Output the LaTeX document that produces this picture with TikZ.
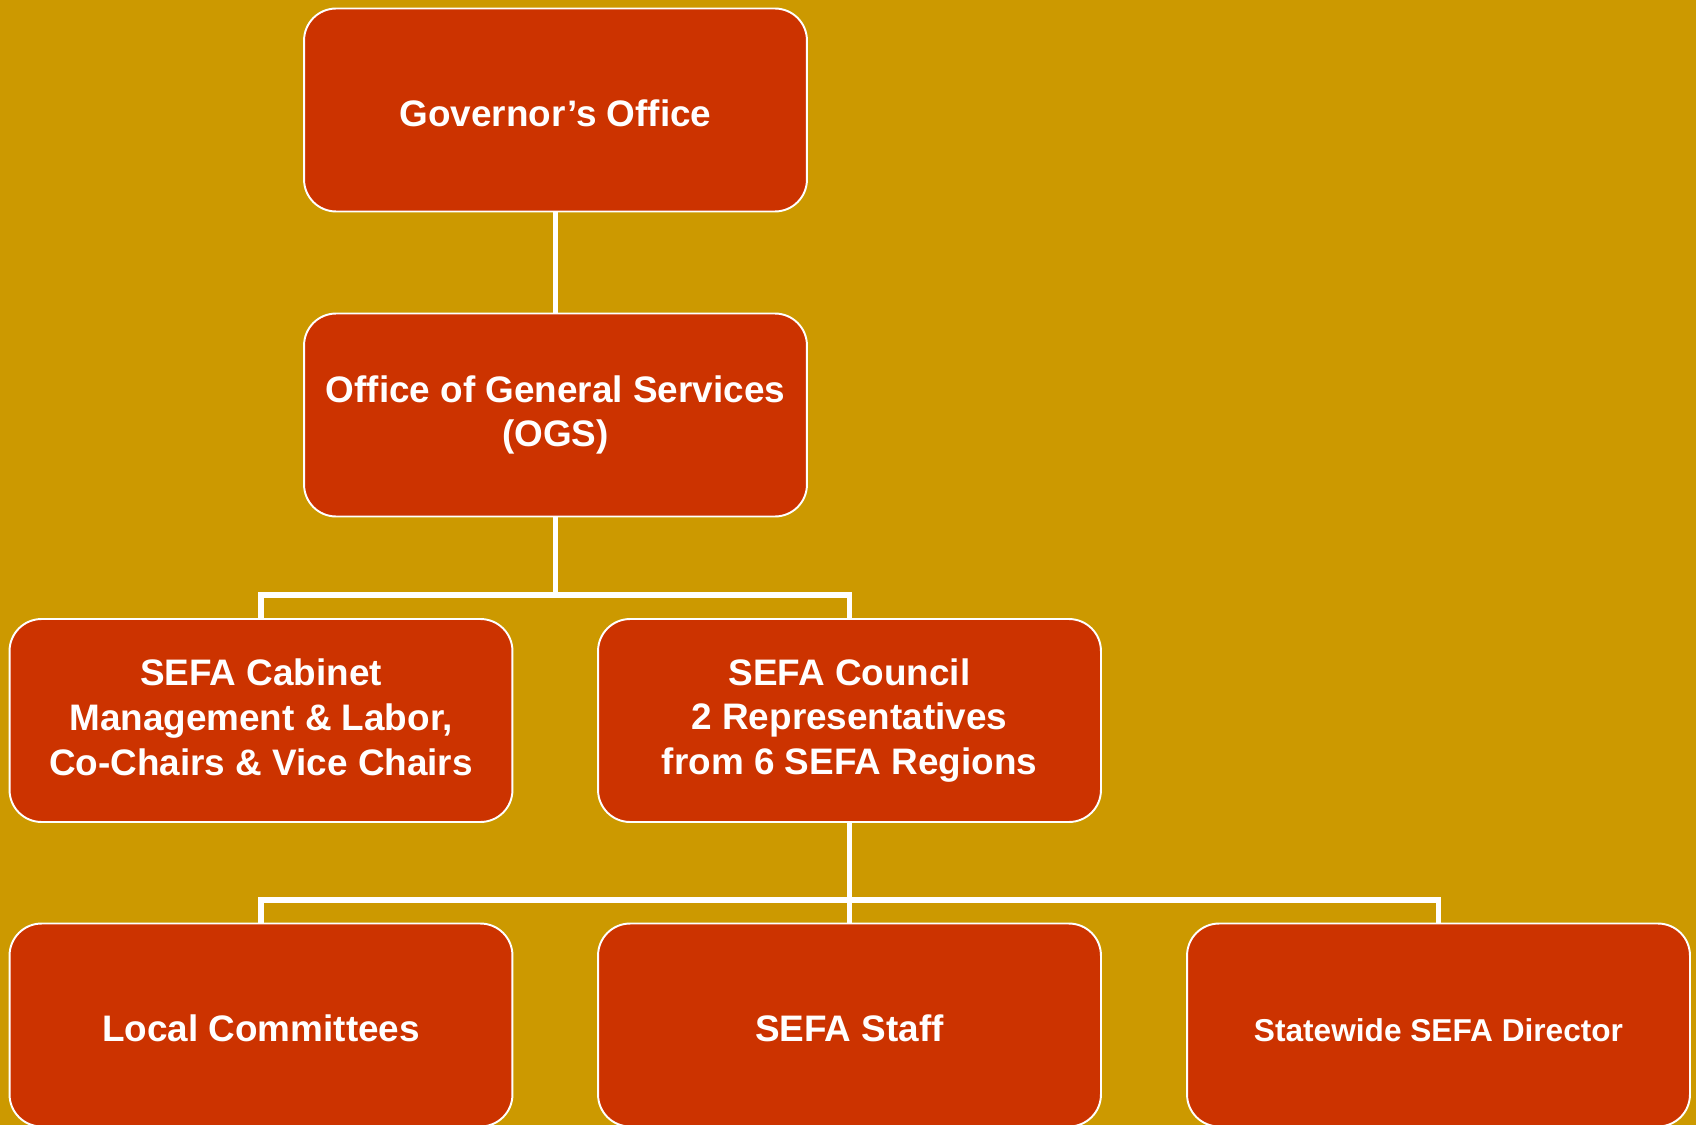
\documentclass[tikz,border=0pt]{standalone}
\usepackage{fontspec}
\setmainfont{Liberation Sans}
\definecolor{gold}{HTML}{CC9900}
\definecolor{brick}{HTML}{CC3300}
\newcommand{\topprop}{\rule{0pt}{22pt}}
\newcommand{\botprop}{\rule[-3.5pt]{0pt}{3.5pt}}
\begin{document}
\begin{tikzpicture}[x=0.02cm, y=-0.02cm,
    every node/.style={font=\fontsize{21}{25.5}\selectfont\bfseries},
    unit/.style={draw=white, line width=1.1pt, fill=brick, text=white, rounded corners=0.64cm,
                 minimum width=10.06cm, minimum height=4.06cm, align=center, inner sep=0pt,
                 execute at begin node=\topprop, execute at end node=\botprop},
    link/.style={white, line width=3.2pt}]
    \fill[gold] (0,0) rectangle (1696,1125);
    \useasboundingbox (0,0) rectangle (1696,1125);
    \clip (0,0) rectangle (1696,1125);
    % Top of the chart
    \node[unit] (gov) at (555.5,110) {Governor’s Office};
    \node[unit] (ogs) at (555.5,415) {Office of General Services\\(OGS)};

    % Second row
    \node[unit] (cabinet) at (261,720.5) {SEFA Cabinet\\Management \& Labor,\\Co-Chairs \& Vice Chairs};
    \node[unit] (council) at (849.5,720.5) {SEFA Council\\2 Representatives\\from 6 SEFA Regions};

    % Bottom row
    \node[unit] (local) at (261,1025) {Local Committees};
    \node[unit] (staff) at (849.5,1025) {SEFA Staff};
    \node[unit, font=\fontsize{18}{22}\selectfont\bfseries] (director) at (1438.5,1025) {Statewide SEFA Director};

    % Links
    \coordinate (ogsbar) at (555.5,595);
    \coordinate (councilbar) at (849.5,900);
    \draw[link] (gov) -- (ogs);
    \draw[link] (ogs) -- (ogsbar);
    \draw[link] (ogsbar) -| (cabinet);
    \draw[link] (ogsbar) -| (council);
    \draw[link] (council) -- (councilbar);
    \draw[link] (councilbar) -| (local);
    \draw[link] (councilbar) -- (staff);
    \draw[link] (councilbar) -| (director);
\end{tikzpicture}
\end{document}
